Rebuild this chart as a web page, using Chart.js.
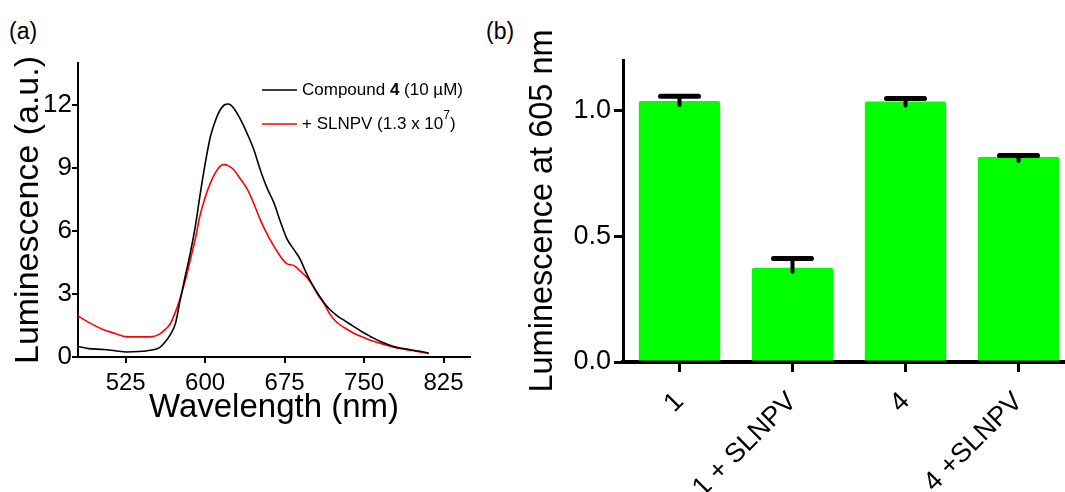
<!DOCTYPE html>
<html>
<head>
<meta charset="utf-8">
<script src="https://cdn.jsdelivr.net/npm/chart.js@4.4.0/dist/chart.umd.min.js"></script>
<style>
  html, body { margin: 0; padding: 0; background: #fff; overflow: hidden; width: 1065px; height: 492px; }
  .panel { position: absolute; top: 0; height: 492px; }
  .tag { position: absolute; top: 18px; font: 23px "Liberation Sans", Arial, sans-serif; color: #000; }
</style>
</head>
<body>
<div class="tag" style="left:9px">(a)</div>
<div class="tag" style="left:486px">(b)</div>
<div class="panel" style="left:0; width:480px"><canvas id="spec"></canvas></div>
<div class="panel" style="left:480px; width:600px"><canvas id="bars"></canvas></div>

<script>
const FONT = '"Liberation Sans", Arial, sans-serif';

// (a) спектри люмінесценції
const wavelengths = [480, 490, 504, 515, 526, 537, 548, 557, 562, 567, 572, 576, 581, 586, 591, 595,
    600, 605, 610, 614, 618, 622, 627, 633, 640, 646, 652, 658, 665, 671, 677, 684, 690, 695, 700,
    706, 712, 718, 725, 732, 740, 748, 756, 765, 778, 790, 803, 811];
const compound4 = [0.5, 0.4, 0.36, 0.3, 0.24, 0.26, 0.32, 0.45, 0.7, 1.05, 1.6, 2.6, 3.8, 4.95, 6.3, 7.65,
    9.2, 10.5, 11.3, 11.75, 12.0, 12.05, 11.85, 11.35, 10.6, 9.87, 8.92, 8.1, 7.33, 6.45, 5.65, 5.1, 4.63, 4.05, 3.55,
    3.05, 2.6, 2.25, 1.95, 1.72, 1.46, 1.2, 0.98, 0.75, 0.5, 0.38, 0.27, 0.19];
const withSlnpv = [1.95, 1.65, 1.3, 1.12, 0.96, 0.96, 0.96, 1.09, 1.3, 1.57, 2.15, 2.73, 3.6, 4.63, 5.7, 6.7,
    7.6, 8.29, 8.8, 9.08, 9.16, 9.1, 8.92, 8.5, 7.97, 7.3, 6.54, 5.9, 5.27, 4.8, 4.45, 4.35, 4.08, 3.85, 3.52,
    3.0, 2.57, 2.02, 1.62, 1.38, 1.14, 0.96, 0.8, 0.66, 0.47, 0.35, 0.24, 0.16];
const seriesNames = ['Compound 4 (10 µM)', '+ SLNPV (1.3 x 10⁷)'];
const xTicksA = [525, 600, 675, 750, 825];
const yTicksA = [0, 3, 6, 9, 12];

// (b) люмінесценція при 605 нм
const barLabels = ['1', '1 + SLNPV', '4', '4 +SLNPV'];
const barValues = [1.037, 0.375, 1.035, 0.815];
const barErrors = [0.019, 0.036, 0.012, 0.006];
const yTicksB = [0, 0.5, 1.0];

// легенда з жирною "4" та верхнім індексом
const legendParts = [
    [{t: 'Compound '}, {t: '4', bold: true}, {t: ' (10 µM)'}],
    [{t: '+ SLNPV (1.3 x 10'}, {t: '7', sup: true}, {t: ')'}]
];
const legendColors = ['#000000', '#ff0000'];

const legendA = {
    id: 'legendA',
    afterDraw(chart) {
        const ctx = chart.ctx;
        ctx.save();
        ctx.textBaseline = 'middle';
        legendParts.forEach((row, r) => {
            const y = 90 + r * 34;
            ctx.strokeStyle = legendColors[r];
            ctx.lineWidth = 1.5;
            ctx.beginPath();
            ctx.moveTo(262, y);
            ctx.lineTo(297, y);
            ctx.stroke();
            let x = 302;
            ctx.fillStyle = '#000';
            row.forEach(p => {
                ctx.font = (p.bold ? 'bold ' : '') + (p.sup ? '12px ' : '17px ') + FONT;
                ctx.fillText(p.t, x, p.sup ? y - 8 : y);
                x += ctx.measureText(p.t).width;
            });
        });
        ctx.restore();
    }
};

const errorBars = {
    id: 'errorBars',
    afterDatasetsDraw(chart) {
        const ctx = chart.ctx;
        const y = chart.scales.y;
        const meta = chart.getDatasetMeta(0);
        ctx.save();
        ctx.strokeStyle = '#000';
        ctx.lineCap = 'round';
        meta.data.forEach((bar, i) => {
            const top = y.getPixelForValue(barValues[i] + barErrors[i]);
            const base = y.getPixelForValue(barValues[i]);
            ctx.lineWidth = 4;
            ctx.beginPath();
            ctx.moveTo(bar.x, top);
            ctx.lineTo(bar.x, base + 4);
            ctx.stroke();
            ctx.lineWidth = 5;
            ctx.beginPath();
            ctx.moveTo(bar.x - 19, top);
            ctx.lineTo(bar.x + 19, top);
            ctx.stroke();
        });
        ctx.restore();
    }
};

const specData = (vals) => wavelengths.map((w, i) => ({x: w, y: vals[i]}));

new Chart(document.getElementById('spec'), {
    type: 'line',
    data: {
        datasets: [
            {label: seriesNames[0], data: specData(compound4), borderColor: '#000000', borderWidth: 1.6,
             pointRadius: 0, cubicInterpolationMode: 'monotone'},
            {label: seriesNames[1], data: specData(withSlnpv), borderColor: '#ff0000', borderWidth: 1.6,
             pointRadius: 0, cubicInterpolationMode: 'monotone'}
        ]
    },
    options: {
        responsive: true,
        maintainAspectRatio: false,
        animation: false,
        layout: {padding: {top: 63, right: 10, left: 0, bottom: 0}},
        plugins: {legend: {display: false}, tooltip: {enabled: false}},
        scales: {
            x: {
                type: 'linear', min: 480, max: 850,
                afterBuildTicks: s => { s.ticks = xTicksA.map(v => ({value: v})); },
                afterFit: s => { s.height = 135; },
                border: {display: true, color: '#000', width: 2},
                grid: {display: true, drawOnChartArea: false, drawTicks: true, tickLength: 6, color: '#000', lineWidth: 2},
                ticks: {color: '#000', font: {family: FONT, size: 24}, padding: 6, maxRotation: 0},
                title: {display: true, text: 'Wavelength (nm)', color: '#000',
                        font: {family: FONT, size: 33, lineHeight: 1}, padding: {top: 0, bottom: 68}}
            },
            y: {
                min: 0, max: 14,
                afterBuildTicks: s => { s.ticks = yTicksA.map(v => ({value: v})); },
                afterFit: s => { s.width = 78; },
                border: {display: true, color: '#000', width: 2},
                grid: {display: true, drawOnChartArea: false, drawTicks: true, tickLength: 6, color: '#000', lineWidth: 2},
                ticks: {color: '#000', font: {family: FONT, size: 26}, padding: 0},
                title: {display: true, text: 'Luminescence (a.u.)', color: '#000',
                        font: {family: FONT, size: 34, lineHeight: 1}, padding: {top: 12, bottom: 0}}
            }
        }
    },
    plugins: [legendA]
});

new Chart(document.getElementById('bars'), {
    type: 'bar',
    data: {
        labels: barLabels,
        datasets: [{
            data: barValues,
            backgroundColor: '#00ff00',
            borderWidth: 0,
            borderRadius: 2,
            categoryPercentage: 1,
            barPercentage: 0.72
        }]
    },
    options: {
        responsive: true,
        maintainAspectRatio: false,
        animation: false,
        layout: {padding: {top: 60, right: 5, left: 0, bottom: 0}},
        plugins: {legend: {display: false}, tooltip: {enabled: false}},
        scales: {
            x: {
                afterFit: s => { s.height = 130; },
                border: {display: true, color: '#000', width: 4},
                grid: {display: true, offset: false, drawOnChartArea: false, drawTicks: true, tickLength: 10, color: '#000', lineWidth: 3},
                ticks: {color: '#000', font: {family: FONT, size: 27}, padding: 14, minRotation: 45, maxRotation: 45, autoSkip: false}
            },
            y: {
                min: 0, max: 1.2,
                afterBuildTicks: s => { s.ticks = yTicksB.map(v => ({value: v})); },
                afterFit: s => { s.width = 143; },
                border: {display: true, color: '#000', width: 3},
                grid: {display: true, drawOnChartArea: false, drawTicks: true, tickLength: 9, color: '#000', lineWidth: 3},
                ticks: {color: '#000', font: {family: FONT, size: 27}, padding: 3,
                        callback: v => Number(v).toFixed(1)},
                title: {display: true, text: 'Luminescence at 605 nm', color: '#000',
                        font: {family: FONT, size: 32.5, lineHeight: 1}, padding: {top: 47, bottom: 0}}
            }
        }
    },
    plugins: [errorBars]
});
</script>
</body>
</html>
